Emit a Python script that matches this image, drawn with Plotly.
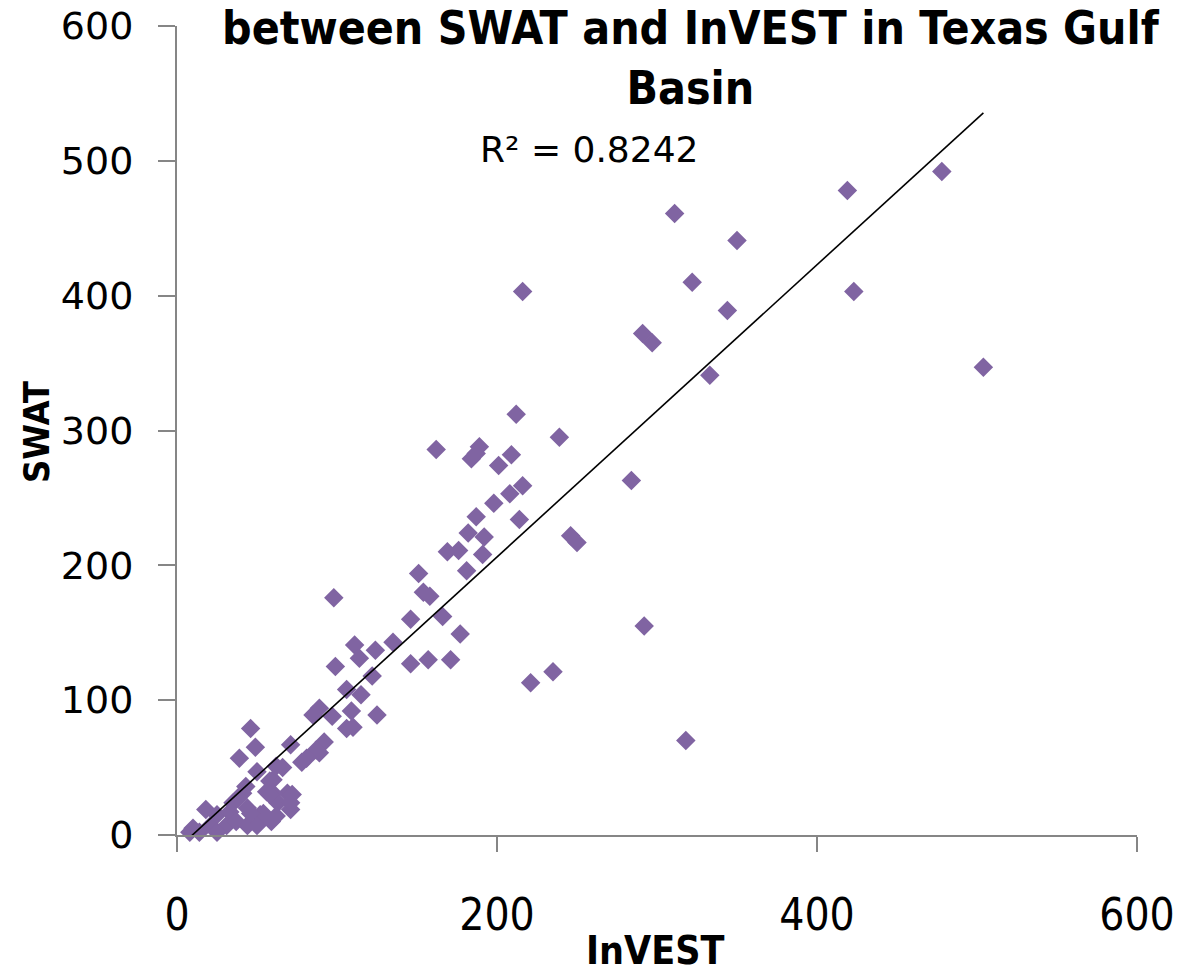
import numpy as np
import plotly.graph_objects as go

# InVEST (x) and SWAT (y) values
invest = [
    478, 419, 311, 350, 322, 216, 423, 344, 291, 297, 504, 333,
    212, 239, 162, 189, 187, 184, 209, 201, 216, 208, 198, 187,
    284, 214, 182, 192, 246, 250, 169, 176, 191, 181, 151, 154,
    158, 98, 146, 166, 177, 292, 111, 135, 124, 114, 146, 157,
    171, 99, 122, 235, 221, 318, 115, 106, 125, 109, 106, 110,
    89, 85, 97, 92, 71, 87, 89, 81, 78, 66, 62, 60, 69, 72, 63,
    71, 62, 46, 49, 39, 50, 58, 56, 43, 38, 60, 18, 25, 33, 44,
    52, 59, 10, 8, 21, 31, 37, 25, 44, 50, 14, 54, 46, 35, 41,
    58, 71,
]
swat = [
    492, 478, 461, 441, 410, 403, 403, 389, 372, 365, 347, 341,
    312, 295, 286, 288, 283, 279, 282, 274, 259, 253, 246, 236,
    263, 234, 224, 221, 222, 217, 210, 211, 208, 196, 194, 180,
    177, 176, 160, 162, 149, 155, 141, 143, 137, 131, 127, 130,
    130, 125, 118, 121, 113, 70, 104, 108, 89, 92, 79, 80,
    94, 89, 88, 69, 67, 63, 61, 57, 54, 50, 51, 41, 31, 30, 24,
    19, 14, 79, 65, 57, 47, 40, 32, 36, 27, 31, 19, 15, 17, 20,
    15, 10, 5, 2, 7, 7, 10, 2, 7, 7, 2, 16, 16, 24, 31,
    30, 24,
]

r2_label = "R² = 0.8242"
title_text = "between SWAT and InVEST in Texas Gulf<br>Basin"
x_title = "InVEST"
y_title = "SWAT"
x_ticks = [0, 200, 400, 600]
y_ticks = [0, 100, 200, 300, 400, 500, 600]

# linear trendline fitted to the data (as Excel does)
slope, intercept = np.polyfit(invest, swat, 1)
tx = np.array([min(invest), max(invest)])
ty = slope * tx + intercept

narrow = "Liberation Sans Narrow, DejaVu Sans Condensed, Arial Narrow, sans-serif"
wide = "DejaVu Sans, Verdana, sans-serif"
axis_col = "#868686"

# plot area on screen: x 177..1137, y 26..835 (page body adds 8px offset)
PL, PR, PT, PB = 177, 1137, 26, 835
PW, PH = PR - PL, PB - PT


def px(x):
    return (x - PL) / PW


def py(y):
    return (PB - y) / PH


fig = go.Figure()
fig.add_trace(go.Scatter(
    x=invest, y=swat, mode="markers",
    marker=dict(symbol="diamond", size=15, color="#8064A2", line=dict(width=0)),
    showlegend=False, cliponaxis=False,
))
fig.add_trace(go.Scatter(
    x=tx, y=ty, mode="lines", line=dict(color="black", width=1.6),
    showlegend=False,
))

fig.update_layout(
    width=1182, height=969,
    margin=dict(l=PL - 8, r=1182 - (PR - 8), t=PT - 8, b=969 - (PB - 8), autoexpand=False),
    paper_bgcolor="white", plot_bgcolor="white",
    xaxis=dict(
        range=[0, 600], tickvals=x_ticks, showgrid=False, zeroline=False,
        showline=True, linecolor=axis_col, linewidth=2, automargin=False,
        ticks="outside", ticklen=15, tickwidth=2, tickcolor=axis_col,
        tickfont=dict(family=narrow, size=44, color="black"),
        ticklabelstandoff=25, ticklabeloverflow="allow",
    ),
    yaxis=dict(
        range=[0, 600], tickvals=y_ticks, showgrid=False, zeroline=False,
        showline=True, linecolor=axis_col, linewidth=2, automargin=False,
        ticks="outside", ticklen=17, tickwidth=2, tickcolor=axis_col,
        tickfont=dict(family=wide, size=38, color="black"),
        ticklabelstandoff=17, ticklabeloverflow="allow",
    ),
    annotations=[
        dict(text=title_text, xref="paper", yref="paper", x=px(691), y=py(58),
             xanchor="center", yanchor="middle", showarrow=False,
             font=dict(family=narrow, size=46, color="black", weight="bold")),
        dict(text=r2_label, xref="paper", yref="paper", x=px(478), y=py(150),
             xanchor="left", yanchor="middle", showarrow=False,
             font=dict(family=wide, size=36, color="black")),
        dict(text=x_title, xref="paper", yref="paper", x=px(655), y=py(950),
             xanchor="center", yanchor="middle", showarrow=False,
             font=dict(family=narrow, size=39, color="black", weight="bold")),
        dict(text=y_title, xref="paper", yref="paper", x=px(37), y=py(432),
             xanchor="center", yanchor="middle", showarrow=False, textangle=-90,
             font=dict(family=narrow, size=36, color="black", weight="bold")),
    ],
)

fig.write_html("out.html")
